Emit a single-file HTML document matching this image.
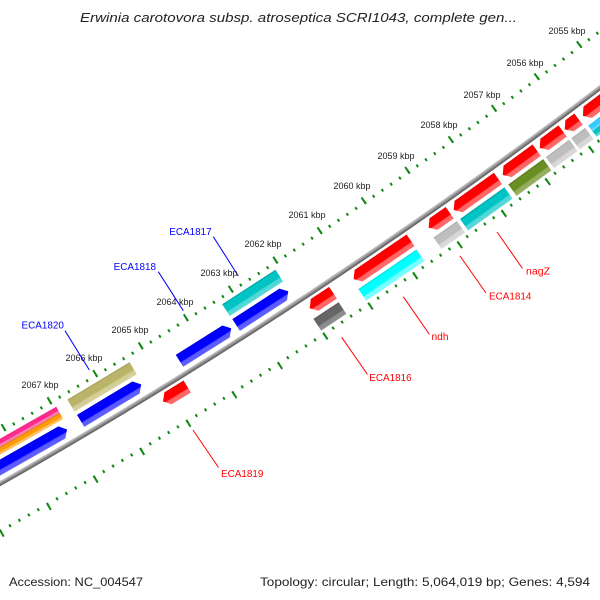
<!DOCTYPE html>
<html><head><meta charset="utf-8"><style>
html,body{margin:0;padding:0;background:#fff;width:600px;height:600px;overflow:hidden;}
svg{display:block;overflow:hidden;}
text{font-family:"Liberation Sans","DejaVu Sans",sans-serif;}
</style></head><body>
<svg width="600" height="600" viewBox="0 0 600 600" xmlns="http://www.w3.org/2000/svg">
<defs>
<clipPath id="frame"><rect x="0" y="0" width="600" height="600"/></clipPath>
<linearGradient id="gRed" x1="0" y1="0" x2="1" y2="0"><stop offset="0" stop-color="#e00000"/><stop offset="0.12" stop-color="#ff0000"/><stop offset="0.6" stop-color="#ff0000"/><stop offset="0.68" stop-color="#ff6262"/><stop offset="1" stop-color="#ff6a6a"/></linearGradient>
<linearGradient id="gBlue" x1="0" y1="0" x2="1" y2="0"><stop offset="0" stop-color="#0000d0"/><stop offset="0.12" stop-color="#0000ff"/><stop offset="0.6" stop-color="#0000ff"/><stop offset="0.68" stop-color="#5858ff"/><stop offset="1" stop-color="#6060ff"/></linearGradient>
<linearGradient id="gTeal" x1="0" y1="0" x2="1" y2="0"><stop offset="0" stop-color="#009c9c"/><stop offset="0.12" stop-color="#00c4c4"/><stop offset="0.6" stop-color="#00c4c4"/><stop offset="0.68" stop-color="#4ed6d6"/><stop offset="1" stop-color="#58d9d9"/></linearGradient>
<linearGradient id="gCyan" x1="0" y1="0" x2="1" y2="0"><stop offset="0" stop-color="#00d8d8"/><stop offset="0.12" stop-color="#00ffff"/><stop offset="0.6" stop-color="#00ffff"/><stop offset="0.68" stop-color="#70ffff"/><stop offset="1" stop-color="#78ffff"/></linearGradient>
<linearGradient id="gDGrey" x1="0" y1="0" x2="1" y2="0"><stop offset="0" stop-color="#555"/><stop offset="0.12" stop-color="#666"/><stop offset="0.6" stop-color="#666"/><stop offset="0.68" stop-color="#8a8a8a"/><stop offset="1" stop-color="#8e8e8e"/></linearGradient>
<linearGradient id="gLGrey" x1="0" y1="0" x2="1" y2="0"><stop offset="0" stop-color="#a9a9a9"/><stop offset="0.12" stop-color="#bebebe"/><stop offset="0.6" stop-color="#bebebe"/><stop offset="0.68" stop-color="#d6d6d6"/><stop offset="1" stop-color="#dadada"/></linearGradient>
<linearGradient id="gOlive" x1="0" y1="0" x2="1" y2="0"><stop offset="0" stop-color="#587419"/><stop offset="0.12" stop-color="#6b8e23"/><stop offset="0.6" stop-color="#6b8e23"/><stop offset="0.68" stop-color="#93ab5c"/><stop offset="1" stop-color="#98b062"/></linearGradient>
<linearGradient id="gKhaki" x1="0" y1="0" x2="1" y2="0"><stop offset="0" stop-color="#9f9a55"/><stop offset="0.12" stop-color="#bab46a"/><stop offset="0.6" stop-color="#bab46a"/><stop offset="0.68" stop-color="#d2cd95"/><stop offset="1" stop-color="#d6d19a"/></linearGradient>
<linearGradient id="gPink" x1="0" y1="0" x2="1" y2="0"><stop offset="0" stop-color="#e0207a"/><stop offset="0.12" stop-color="#ff2a8c"/><stop offset="0.6" stop-color="#ff2a8c"/><stop offset="0.68" stop-color="#ff78b4"/><stop offset="1" stop-color="#ff7cb8"/></linearGradient>
<linearGradient id="gOrange" x1="0" y1="0" x2="1" y2="0"><stop offset="0" stop-color="#b06020"/><stop offset="0.15" stop-color="#ff9a00"/><stop offset="0.6" stop-color="#ff9a00"/><stop offset="0.68" stop-color="#ffbe5a"/><stop offset="1" stop-color="#ffc262"/></linearGradient>
<linearGradient id="gLBlue" x1="0" y1="0" x2="1" y2="0"><stop offset="0" stop-color="#22b8ee"/><stop offset="0.15" stop-color="#33ccff"/><stop offset="0.6" stop-color="#33ccff"/><stop offset="1" stop-color="#80e0ff"/></linearGradient>
</defs>
<rect x="0" y="0" width="600" height="600" fill="#ffffff"/>

<g clip-path="url(#frame)">
<g transform="translate(-2646,-4180)">
  <!-- tick rings (arcs centred on their mid angle) -->
  <g transform="rotate(56.5277)" fill="none" stroke="#118811">
    <path d="M5300.81 -414.60 A5317 5317 0 0 1 5300.81 414.60" stroke-width="3" stroke-dasharray="2 8.6496"/>
    <path d="M5298.82 -414.45 A5315 5315 0 0 1 5298.82 414.45" stroke-width="8" stroke-dasharray="2 51.2281"/>
  </g>
  <g transform="rotate(56.5278)" fill="none" stroke="#118811">
    <path d="M5387.05 -421.35 A5403.5 5403.5 0 0 1 5387.05 421.35" stroke-width="3" stroke-dasharray="2 8.8229"/>
    <path d="M5389.54 -421.54 A5406 5406 0 0 1 5389.54 421.54" stroke-width="8" stroke-dasharray="2 52.1395"/>
  </g>
  <!-- backbone -->
  <g transform="rotate(56.5277)" fill="none">
    <path d="M5344.18 -418.00 A5360.5 5360.5 0 0 1 5344.18 418.00" stroke="#b8b8b8" stroke-width="1.7"/>
    <path d="M5345.67 -418.11 A5362 5362 0 0 1 5345.67 418.11" stroke="#8e8e8e" stroke-width="1.6"/>
    <path d="M5347.17 -418.23 A5363.5 5363.5 0 0 1 5347.17 418.23" stroke="#686868" stroke-width="1.7"/>
  </g>

  <!-- inner slot 1: blue reverse arrows -->
  <g transform="rotate(60.383)"><path fill="url(#gBlue)" d="M5341 -74.6 L5348 -80.6 L5355 -74.6 L5355 80.6 L5341 80.6Z"/></g>
  <g transform="rotate(58.969)"><path fill="url(#gBlue)" d="M5341 -29.35 L5348 -35.35 L5355 -29.35 L5355 35.35 L5341 35.35Z"/></g>
  <g transform="rotate(57.781)"><path fill="url(#gBlue)" d="M5341 -24.55 L5348 -30.55 L5355 -24.55 L5355 30.55 L5341 30.55Z"/></g>
  <g transform="rotate(57.058)"><path fill="url(#gBlue)" d="M5341 -25.05 L5348 -31.05 L5355 -25.05 L5355 31.05 L5341 31.05Z"/></g>

  <!-- inner slot 2 -->
  <g transform="rotate(60.372)">
    <path fill="url(#gPink)" d="M5323 -81.4 L5330 -81.4 L5330 81.4 L5323 81.4Z"/>
    <path fill="url(#gOrange)" d="M5330 -81.4 L5337 -81.4 L5337 81.4 L5330 81.4Z"/>
  </g>
  <g transform="rotate(58.963)"><path fill="url(#gKhaki)" d="M5323 -36.3 L5337 -36.3 L5337 36.3 L5323 36.3Z"/></g>
  <g transform="rotate(57.055)"><path fill="url(#gTeal)" d="M5323 -31.75 L5337 -31.75 L5337 31.75 L5323 31.75Z"/></g>

  <!-- outer slot 1: red forward arrows -->
  <g transform="rotate(58.335)"><path fill="url(#gRed)" d="M5367 -14.25 L5381 -14.25 L5381 8.25 L5374 14.25 L5367 8.25Z"/></g>
  <g transform="rotate(56.484)"><path fill="url(#gRed)" d="M5367 -14 L5381 -14 L5381 8 L5374 14 L5367 8Z"/></g>
  <g transform="rotate(55.704)"><path fill="url(#gRed)" d="M5367 -34.45 L5381 -34.45 L5381 28.45 L5374 34.45 L5367 28.45Z"/></g>
  <g transform="rotate(54.964)"><path fill="url(#gRed)" d="M5367 -12.9 L5381 -12.9 L5381 6.9 L5374 12.9 L5367 6.9Z"/></g>
  <g transform="rotate(54.485)"><path fill="url(#gRed)" d="M5367 -27.2 L5381 -27.2 L5381 21.2 L5374 27.2 L5367 21.2Z"/></g>
  <g transform="rotate(53.908)"><path fill="url(#gRed)" d="M5367 -21 L5381 -21 L5381 15 L5374 21 L5367 15Z"/></g>
  <g transform="rotate(53.492)"><path fill="url(#gRed)" d="M5367 -14.25 L5381 -14.25 L5381 8.25 L5374 14.25 L5367 8.25Z"/></g>
  <g transform="rotate(53.220)"><path fill="url(#gRed)" d="M5367 -8.6 L5381 -8.6 L5381 2.6 L5374 8.6 L5367 2.6Z"/></g>
  <g transform="rotate(52.798)"><path fill="url(#gRed)" d="M5367 -25.55 L5381 -25.55 L5381 19.55 L5374 25.55 L5367 19.55Z"/></g>

  <!-- outer slot 2 -->
  <g transform="rotate(56.502)"><path fill="url(#gDGrey)" d="M5385 -15.1 L5399 -15.1 L5399 15.1 L5385 15.1Z"/></g>
  <g transform="rotate(55.716)"><path fill="url(#gCyan)" d="M5385 -35.1 L5399 -35.1 L5399 35.1 L5385 35.1Z"/></g>
  <g transform="rotate(54.967)"><path fill="url(#gLGrey)" d="M5385 -14.3 L5399 -14.3 L5399 14.3 L5385 14.3Z"/></g>
  <g transform="rotate(54.485)"><path fill="url(#gTeal)" d="M5385 -27.25 L5399 -27.25 L5399 27.25 L5385 27.25Z"/></g>
  <g transform="rotate(53.914)"><path fill="url(#gOlive)" d="M5385 -21.6 L5399 -21.6 L5399 21.6 L5385 21.6Z"/></g>
  <g transform="rotate(53.495)"><path fill="url(#gLGrey)" d="M5385 -14.6 L5399 -14.6 L5399 14.6 L5385 14.6Z"/></g>
  <g transform="rotate(53.220)"><path fill="url(#gLGrey)" d="M5385 -8.65 L5399 -8.65 L5399 8.65 L5385 8.65Z"/></g>
  <g transform="rotate(52.806)">
    <path fill="url(#gLBlue)" d="M5385 -26.45 L5392 -26.45 L5392 26.45 L5385 26.45Z"/>
    <path fill="url(#gTeal)" d="M5392 -26.45 L5399 -26.45 L5399 26.45 L5392 26.45Z"/>
  </g>
</g>
</g>

<!-- label lines -->
<g stroke-width="1" fill="none">
  <line x1="213.3" y1="236.7" x2="238.3" y2="276" stroke="#0000ff"/>
  <line x1="158.3" y1="271.7" x2="183.3" y2="310.7" stroke="#0000ff"/>
  <line x1="65" y1="330.7" x2="89.3" y2="370" stroke="#0000ff"/>
  <line x1="193" y1="430" x2="218.5" y2="467.5" stroke="#ff0000"/>
  <line x1="341.7" y1="337.3" x2="367.5" y2="374.5" stroke="#ff0000"/>
  <line x1="403.3" y1="296.7" x2="429.5" y2="334.5" stroke="#ff0000"/>
  <line x1="460" y1="256" x2="486" y2="293" stroke="#ff0000"/>
  <line x1="497" y1="232" x2="522.5" y2="268.5" stroke="#ff0000"/>
</g>

<!-- tick labels -->
<g font-size="9" fill="#222" text-anchor="middle">
  <text x="567" y="34">2055 kbp</text>
  <text x="525" y="66">2056 kbp</text>
  <text x="482" y="98">2057 kbp</text>
  <text x="439" y="128">2058 kbp</text>
  <text x="396" y="159">2059 kbp</text>
  <text x="352" y="189">2060 kbp</text>
  <text x="307" y="218">2061 kbp</text>
  <text x="263" y="247">2062 kbp</text>
  <text x="219" y="276">2063 kbp</text>
  <text x="175" y="305">2064 kbp</text>
  <text x="130" y="333">2065 kbp</text>
  <text x="84" y="361">2066 kbp</text>
  <text x="40" y="388">2067 kbp</text>
</g>

<!-- feature labels -->
<g font-size="10.5">
  <text x="169.3" y="235" fill="#0000ff" textLength="42.4" lengthAdjust="spacingAndGlyphs">ECA1817</text>
  <text x="113.6" y="270" fill="#0000ff" textLength="42.4" lengthAdjust="spacingAndGlyphs">ECA1818</text>
  <text x="21.5" y="328.3" fill="#0000ff" textLength="42.4" lengthAdjust="spacingAndGlyphs">ECA1820</text>
  <text x="221" y="477" fill="#ff0000" textLength="42.4" lengthAdjust="spacingAndGlyphs">ECA1819</text>
  <text x="369.3" y="381" fill="#ff0000" textLength="42.4" lengthAdjust="spacingAndGlyphs">ECA1816</text>
  <text x="431.5" y="340" fill="#ff0000" textLength="17" lengthAdjust="spacingAndGlyphs">ndh</text>
  <text x="489" y="299.5" fill="#ff0000" textLength="42.4" lengthAdjust="spacingAndGlyphs">ECA1814</text>
  <text x="526" y="274.5" fill="#ff0000" textLength="24" lengthAdjust="spacingAndGlyphs">nagZ</text>
</g>

<!-- title and footer -->
<text x="80" y="22" font-size="12.5" font-style="italic" fill="#222" textLength="437" lengthAdjust="spacingAndGlyphs">Erwinia carotovora subsp. atroseptica SCRI1043, complete gen...</text>
<text x="9" y="586" font-size="12" fill="#222" textLength="134" lengthAdjust="spacingAndGlyphs">Accession: NC_004547</text>
<text x="260" y="586" font-size="12" fill="#222" textLength="330" lengthAdjust="spacingAndGlyphs">Topology: circular; Length: 5,064,019 bp; Genes: 4,594</text>
</svg>
</body></html>
